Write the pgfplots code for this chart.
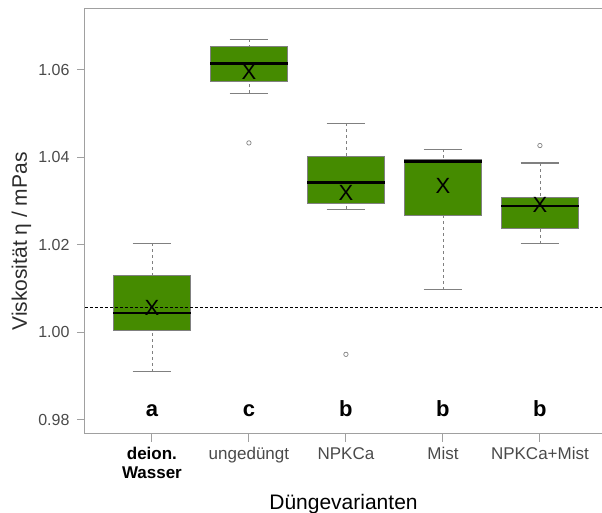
\documentclass[border=0pt]{standalone}
\usepackage{pgfplots}
\pgfplotsset{compat=1.18}
\usepgfplotslibrary{statistics}
\usepackage{fontspec}
\setmainfont{Liberation Sans}
\definecolor{boxgreen}{HTML}{458B00}
\definecolor{framegray}{HTML}{A0A0A0}
\definecolor{labelgray}{HTML}{4A4A4A}

\begin{document}
\begin{tikzpicture}
\useasboundingbox (-85pt,-79pt) rectangle (517pt,434pt);
\begin{axis}[
  at={(0,0)}, anchor=south west,
  scale only axis,
  width=517pt, height=425pt,
  xmin=0.31, xmax=5.64,
  ymin=0.9768, ymax=1.0739,
  axis line style={framegray, line width=1pt},
  tick pos=left, tick align=outside,
  major tick length=8pt,
  tick style={framegray, line width=1pt},
  xtick={1,2,3,4,5},
  xticklabels={{\color{black}\textbf{deion.}\\\color{black}\textbf{Wasser}}, ungedüngt, NPKCa, Mist, NPKCa+Mist},
  xticklabel style={font=\fontsize{17}{19}\selectfont, align=center, text=labelgray, yshift=-2pt},
  ytick={0.98,1.00,1.02,1.04,1.06},
  yticklabels={0.98,1.00,1.02,1.04,1.06},
  yticklabel style={font=\fontsize{16}{16}\selectfont, text=labelgray, xshift=-4pt},
  xlabel={Düngevarianten},
  xlabel style={font=\fontsize{21}{21}\selectfont, at={(axis description cs:0.5,-0.1788)}, anchor=base},
  ylabel={Viskosität η / mPas},
  ylabel style={font=\fontsize{21}{21}\selectfont, text=labelgray!60!black, at={(axis description cs:-0.1228,0.453)}, anchor=center},
  boxplot/draw direction=y,
  boxplot/box extend=0.8,
  boxplot/whisker extend=0.4,
  boxplot/every box/.style={draw=gray, fill=boxgreen, line width=0.8pt},
  boxplot/every median/.style={black, line width=2.5pt},
  boxplot/draw/lower whisker/.code={
    \draw[gray, dashed, line width=0.7pt] (boxplot cs:\pgfplotsboxplotvalue{lower whisker},0) -- (boxplot cs:\pgfplotsboxplotvalue{lower quartile},0);
    \draw[gray, line width=1.2pt] (boxplot whisker cs:\pgfplotsboxplotvalue{lower whisker},0) -- (boxplot whisker cs:\pgfplotsboxplotvalue{lower whisker},1);
  },
  boxplot/draw/upper whisker/.code={
    \draw[gray, dashed, line width=0.7pt] (boxplot cs:\pgfplotsboxplotvalue{upper whisker},0) -- (boxplot cs:\pgfplotsboxplotvalue{upper quartile},0);
    \draw[gray, line width=1.2pt] (boxplot whisker cs:\pgfplotsboxplotvalue{upper whisker},0) -- (boxplot whisker cs:\pgfplotsboxplotvalue{upper whisker},1);
  },
  outlier/.style={mark=o, mark size=2.2pt, mark options={draw=gray, line width=0.7pt, solid}},
]

% deion. Wasser
\addplot[outlier, boxplot prepared={draw position=1,
  lower whisker=0.9910, lower quartile=1.0005, median=1.0044,
  upper quartile=1.0131, upper whisker=1.0204}] coordinates {};
% ungeduengt
\addplot[outlier, boxplot prepared={draw position=2,
  lower whisker=1.0546, lower quartile=1.0574, median=1.0615,
  upper quartile=1.0653, upper whisker=1.0670}] coordinates {(0,1.0433)};
% NPKCa
\addplot[outlier, boxplot prepared={draw position=3,
  lower whisker=1.0281, lower quartile=1.0295, median=1.0343,
  upper quartile=1.0402, upper whisker=1.0478}] coordinates {(0,0.9950)};
% Mist
\addplot[outlier, boxplot prepared={draw position=4,
  lower whisker=1.0098, lower quartile=1.0268, median=1.0391,
  upper quartile=1.0396, upper whisker=1.0418}] coordinates {};
% NPKCa+Mist
\addplot[outlier, boxplot prepared={draw position=5,
  lower whisker=1.0203, lower quartile=1.0237, median=1.0289,
  upper quartile=1.0309, upper whisker=1.0387}] coordinates {(0,1.0427)};

% reference line
\addplot[black, dash pattern=on 3pt off 2pt, line width=0.8pt] coordinates {(0.31,1.0058) (5.64,1.0058)};

% means
\addplot[only marks, mark=text, text mark={X}, text mark as node=true,
  text mark style={font=\fontsize{22}{22}\selectfont, black}] coordinates {
  (1,1.0057) (2,1.0595) (3,1.0319) (4,1.0335) (5,1.0291)
};

% group letters
\addplot[draw=none, mark=none, nodes near coords, point meta=explicit symbolic,
  every node near coord/.style={anchor=base, font=\bfseries\fontsize{22}{22}\selectfont, black}] coordinates {
  (1,0.9809)[a] (2,0.9809)[c] (3,0.9809)[b] (4,0.9809)[b] (5,0.9809)[b]
};
\end{axis}
\end{tikzpicture}
\end{document}
